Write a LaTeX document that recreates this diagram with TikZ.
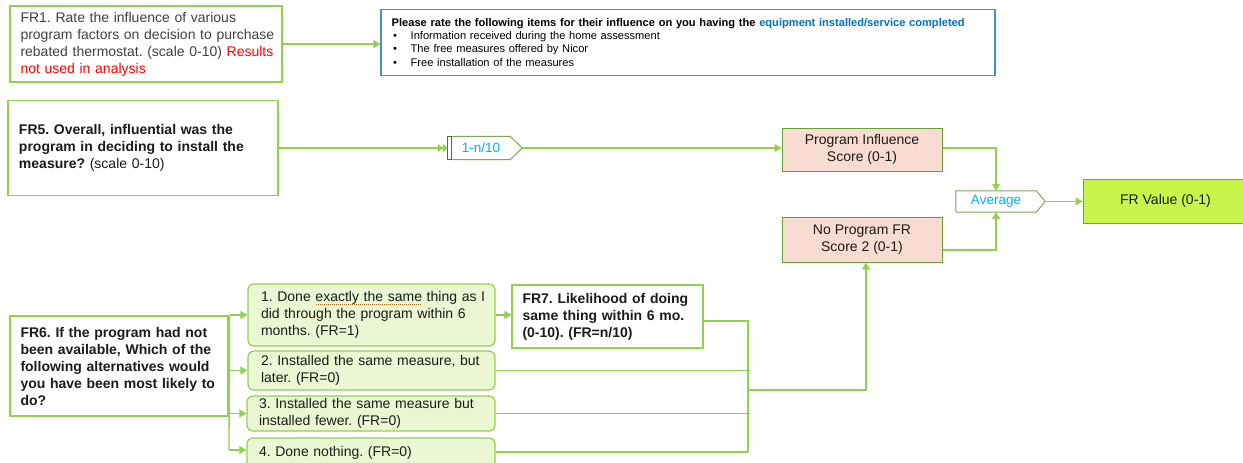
\documentclass[tikz,border=0pt]{standalone}
\usepackage{fontspec}
\setmainfont{Liberation Sans}
\usetikzlibrary{arrows.meta,calc}
\frenchspacing
\definecolor{lime}{HTML}{92D050}
\definecolor{dkgreen}{HTML}{64A036}
\definecolor{peach}{HTML}{F9DCD1}
\definecolor{frvfill}{HTML}{C8F54C}
\definecolor{optfill}{HTML}{EBF7D2}
\definecolor{bluebrd}{HTML}{4A8CD2}
\definecolor{hdblue}{HTML}{0070C0}
\definecolor{cyantxt}{HTML}{00B0F0}
\definecolor{sigbrd}{HTML}{7FA65A}
\definecolor{sigleft}{HTML}{3F7F22}
\definecolor{graytxt}{HTML}{404040}
\definecolor{txt}{HTML}{1A1A1A}
\definecolor{squigcol}{HTML}{B5651D}
\newcommand\squig[1]{\setbox0\hbox{#1}\rlap{\hbox to \wd0{\color{squigcol}\leaders\hbox to 2pt{\hss\rule[-3pt]{1pt}{0.9pt}\hss}\hfill}}\box0\relax}
\newcommand\Ln[1]{\mbox{#1}}
\newcommand\bul{\hspace*{1.3pt}\makebox[17.7pt][l]{\textbullet}}
\tikzset{
  box/.style={draw=lime, line width=1.2pt, rectangle, inner xsep=0pt, inner ysep=0pt,
    font=\fontsize{14}{17}\selectfont, text=txt, align=left},
  optbox/.style={box, rounded corners=6pt, fill=optfill},
  scorebox/.style={draw=dkgreen, line width=1pt, fill=peach, rectangle, align=center,
    font=\fontsize{14}{17}\selectfont, text=txt, inner sep=0pt},
  sig/.style={rectangle, draw=none, inner sep=0pt, text=cyantxt, font=\fontsize{13.5}{16}\selectfont},
  conn/.style={draw=lime, line width=1.3pt, -{Triangle[width=8pt,length=7pt]}},
  conn2/.style={draw=lime, line width=1.3pt, -{Triangle[width=8pt,length=5pt]Triangle[width=8pt,length=5pt]}},
  plain/.style={draw=lime, line width=1.3pt},
}
\begin{document}
\begin{tikzpicture}[x=1pt,y=-1pt]
\useasboundingbox (0,0) rectangle (1243,463);
% top
\node[box, minimum width=272pt, minimum height=76pt, text width=251pt, text=graytxt] (fr1) at (146,44)
 {\Ln{FR1. Rate the influence of various}\\\Ln{program factors on decision to purchase}\\\Ln{rebated thermostat. (scale 0-10) \textcolor{red}{Results}}\\\Ln{\textcolor{red}{not used in analysis}}};
\node[draw=bluebrd, line width=1.2pt, rectangle, inner sep=0pt, minimum width=614pt, minimum height=66pt,
  text width=592.6pt, align=left, font=\fontsize{11.1}{13.3}\selectfont, text=black] (blue) at (688,42.2)
 {\Ln{\textbf{Please rate the following items for their influence on you having the \textcolor{hdblue}{equipment installed/service completed}}}\\
  \bul Information received during the home assessment\\
  \bul The free measures offered by Nicor\\
  \bul Free installation of the measures};
\draw[conn] (fr1.east) -- (fr1.east -| blue.west);
% FR5 row
\node[box, minimum width=270pt, minimum height=95pt, text width=248pt] (fr5) at (143,148)
 {\Ln{\textbf{FR5. Overall, influential was the}}\\\Ln{\textbf{program in deciding to install the}}\\\Ln{\textbf{measure?} (scale 0-10)}};
\node[sig, minimum width=58pt, minimum height=23pt] (onen) at (481,148) {1-n/10};
\draw[sigbrd, line width=1pt] (onen.north west) -- (onen.north east) -- ([xshift=12pt]onen.east) -- (onen.south east) -- (onen.south west);
\draw[sigleft, line width=1pt] ([xshift=-4pt]onen.north west) -- ([xshift=-4pt]onen.south west)
  ([xshift=-4pt]onen.north west) -- (onen.north west) -- (onen.south west) -- ([xshift=-4pt]onen.south west);
\node[scorebox, minimum width=160pt, minimum height=43pt] (prog) at (862,149.5) {Program Influence\\Score (0-1)};
\node[scorebox, minimum width=160pt, minimum height=45pt] (nop) at (862,239.5) {No Program FR\\Score 2 (0-1)};
\node[sig, minimum width=80pt, minimum height=21pt] (avg) at (996,201.5) {Average};
\draw[sigbrd, line width=1pt] (avg.north west) -- (avg.north east) -- ([xshift=9pt]avg.east) -- (avg.south east) -- (avg.south west) -- cycle;
\node[draw=dkgreen!80!lime, line width=1pt, fill=frvfill, rectangle, inner sep=0pt, minimum width=165pt, minimum height=44pt,
  font=\fontsize{14}{17}\selectfont, text=txt] (frv) at (1165.5,201) {FR Value (0-1)};
\draw[conn2] (fr5.east) -- ([xshift=-4pt]onen.west);
\draw[conn] ([xshift=12pt]onen.east) -- (onen.east -| prog.west);
\draw[conn] ([yshift=1.5pt]prog.east) -| (avg.north);
\draw[conn] ([yshift=-10.5pt]nop.east) -| (avg.south);
\draw[conn] ([xshift=9pt]avg.east) -- (avg.east -| frv.west);
% FR6 section
\node[box, minimum width=218pt, minimum height=100pt, text width=197pt] (fr6) at (119,366)
 {\Ln{\textbf{FR6. If the program had not}}\\\Ln{\textbf{been available, Which of the}}\\\Ln{\textbf{following alternatives would}}\\\Ln{\textbf{you have been most likely to}}\\\Ln{\textbf{do?}}};
\node[optbox, minimum width=247pt, minimum height=62pt, text width=221pt] (opt1) at (371.5,315)
 {\Ln{1. Done \squig{exactly the same} thing as I}\\\Ln{did through the program within 6}\\\Ln{months. (FR=1)}};
\node[optbox, minimum width=247pt, minimum height=39pt, text width=221pt] (opt2) at (371.5,370.5)
 {\Ln{2. Installed the same measure, but}\\\Ln{later. (FR=0)}};
\node[optbox, minimum width=248pt, minimum height=35pt, text width=224pt] (opt3) at (371,413.5)
 {\Ln{3. Installed the same measure but}\\\Ln{installed fewer. (FR=0)}};
\node[optbox, minimum width=248pt, minimum height=30pt, text width=224pt] (opt4) at (371,453)
 {\Ln{4. Done nothing. (FR=0)}};
\node[box, minimum width=191pt, minimum height=63pt, text width=170pt] (fr7) at (607.5,316.5)
 {\Ln{\textbf{FR7. Likelihood of doing}}\\\Ln{\textbf{same thing within 6 mo.}}\\\Ln{\textbf{(0-10). (FR=n/10)}}};
\coordinate (a4) at (229,450);
\coordinate (jx) at (748,390);
\coordinate (jbot) at (748,452);
\draw[plain] ([xshift=1pt]fr6.north east) -- (a4);
\draw[conn] ([xshift=1pt]fr6.north east |- opt1.west) -- (opt1.west);
\draw[conn] ([xshift=1pt]fr6.north east |- opt2.west) -- (opt2.west);
\draw[conn] ([xshift=1pt]fr6.north east |- opt3.west) -- (opt3.west);
\draw[conn] (a4) -- (a4 -| opt4.west);
\draw[conn] (opt1.east) -- (opt1.east -| fr7.west);
\draw[plain] ([yshift=-4.5pt]fr7.east) -| (jbot);
\draw[plain] (opt2.east) -- ([xshift=1.5pt]opt2.east -| jx);
\draw[plain] (opt3.east) -- ([xshift=1.5pt]opt3.east -| jx);
\draw[plain] (jbot -| opt4.east) -- (jbot);
\draw[conn] (jx) -| ([xshift=4pt]nop.south);
\end{tikzpicture}
\end{document}
